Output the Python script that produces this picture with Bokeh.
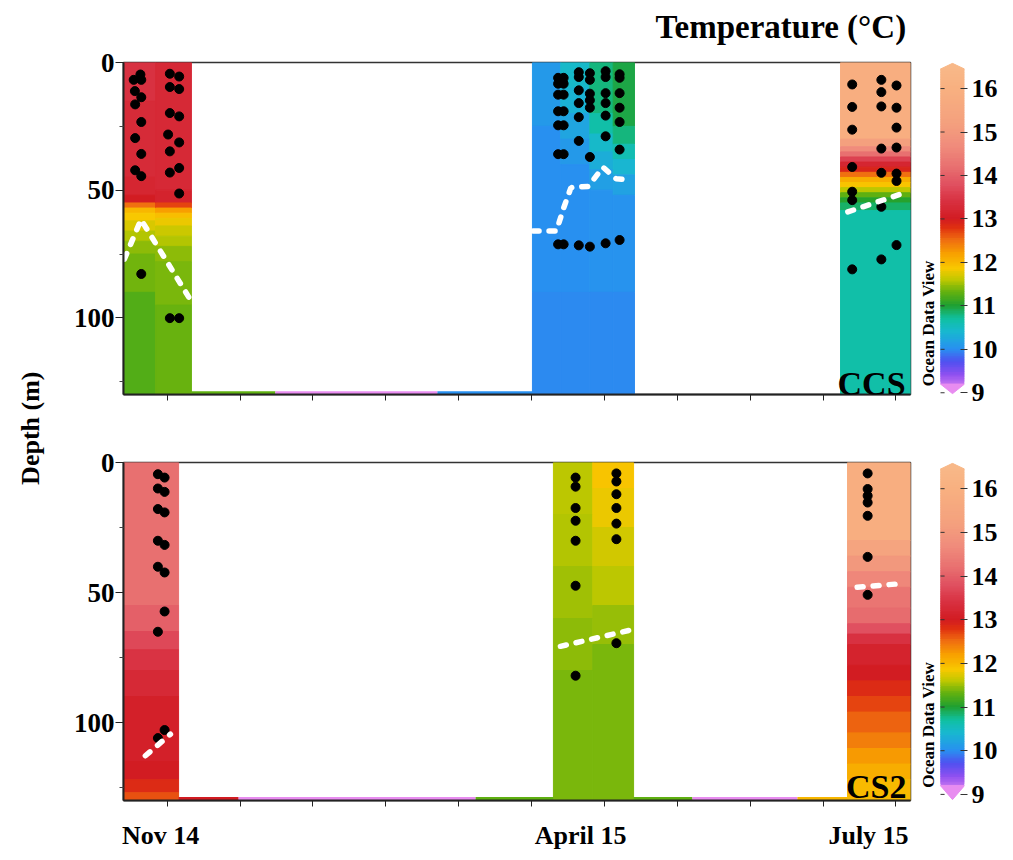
import numpy as np
from bokeh.plotting import figure
from bokeh.models import (Range1d, LinearAxis, FixedTicker, LinearColorMapper, Label,
                          ColumnDataSource)
from bokeh.layouts import row, column
from bokeh.embed import file_html
from bokeh.resources import INLINE

# ---------------- data ----------------
# colour scale (Ocean Data View style)
cb_ticks = [9, 10, 11, 12, 13, 14, 15, 16]
anchor_v = [9.0, 9.4, 9.7, 10.0, 10.4, 10.7, 11.0, 11.3, 11.6, 11.85, 12.2, 12.5, 12.8,
            13.0, 13.4, 13.8, 14.2, 14.7, 15.2, 16.0, 16.5]
anchor_c = ["#e88cf0", "#9050f0", "#5050f0", "#2890f0", "#18b8d0", "#10c0a0", "#20a030",
            "#60b010", "#c0c800", "#f8c800", "#f8a000", "#f07010", "#e03010", "#d21c22",
            "#d83040", "#e05060", "#e87070", "#f08c7c", "#f4a07e", "#f8b080", "#f8b888"]

time_ticks = [15, 40, 65, 90, 115, 140, 165, 190, 215, 240, 265]   # days
month_labels = ["Nov 14", "April 15", "July 15"]
month_pos = [12.7, 156.8, 255.6]

# ---- CCS temperature profiles: (day range, layer boundaries [m], temperature per layer)
ccs_nov1_x = [0.0, 11.0]
ccs_nov1_z = [0, 15, 45, 52, 55, 57, 59, 62, 66, 70, 75, 90, 130]
ccs_nov1_t = [13.4, 13.3, 13.2, 13.0, 12.5, 12.0, 11.85, 11.7, 11.55, 11.45, 11.35, 11.25]
ccs_nov2_x = [11.0, 23.3]
ccs_nov2_z = [0, 50, 55, 57, 59, 61, 64, 68, 72, 78, 95, 130]
ccs_nov2_t = [13.25, 13.15, 12.7, 12.2, 11.95, 11.8, 11.65, 11.55, 11.45, 11.38, 11.32]

ccs_apr1_x = [140.3, 150.0]
ccs_apr1_z = [0, 25, 90, 130]
ccs_apr1_t = [10.1, 10.02, 9.97]
ccs_apr2_x = [150.0, 160.0]
ccs_apr2_z = [0, 10, 20, 30, 40, 90, 130]
ccs_apr2_t = [10.45, 10.35, 10.22, 10.1, 10.02, 9.97]
ccs_apr3_x = [160.0, 168.0]
ccs_apr3_z = [0, 20, 28, 35, 42, 50, 90, 130]
ccs_apr3_t = [10.8, 10.65, 10.45, 10.3, 10.15, 10.05, 9.98]
ccs_apr4_x = [168.0, 175.3]
ccs_apr4_z = [0, 25, 32, 38, 44, 52, 90, 130]
ccs_apr4_t = [10.95, 10.8, 10.6, 10.4, 10.2, 10.05, 9.98]

ccs_jul_x = [246.0, 270.0]
ccs_jul_z = [0, 30, 33, 35, 37, 39, 41, 43, 45, 47, 49, 51, 53, 55, 58, 130]
ccs_jul_t = [15.9, 15.2, 14.7, 14.2, 13.6, 13.2, 12.9, 12.5, 12.1, 11.9, 11.6, 11.3, 11.05, 10.85, 10.65]

# ---- CS2 temperature profiles
cs2_nov_x = [0.0, 18.9]
cs2_nov_z = [0, 55, 65, 72, 80, 90, 115, 122, 127, 130]
cs2_nov_t = [14.2, 14.0, 13.7, 13.45, 13.25, 13.1, 13.0, 12.85, 12.65]

cs2_apr1_x = [147.5, 161.0]
cs2_apr1_z = [0, 20, 40, 60, 80, 130]
cs2_apr1_t = [11.6, 11.55, 11.5, 11.45, 11.38]
cs2_apr2_x = [161.0, 175.0]
cs2_apr2_z = [0, 10, 25, 40, 55, 70, 130]
cs2_apr2_t = [11.88, 11.8, 11.68, 11.58, 11.48, 11.4]

cs2_jul_x = [248.4, 270.0]
cs2_jul_z = [0, 30, 36, 42, 48, 56, 62, 66, 70, 78, 84, 90, 96, 104, 110, 116, 122, 130]
cs2_jul_t = [15.9, 15.4, 15.0, 14.6, 14.3, 14.15, 13.8, 13.4, 13.15, 13.0, 12.85, 12.7,
             12.55, 12.4, 12.25, 12.1, 11.98]

# thin strips along the bottom between cruises
ccs_strip_left = [23.3, 52.1, 107.7]
ccs_strip_right = [52.1, 107.7, 140.3]
ccs_strip_t = [11.3, 9.0, 10.0]
cs2_strip_left = [18.9, 39.5, 120.8, 175.0, 195.2, 231.2]
cs2_strip_right = [39.5, 120.8, 147.5, 195.2, 231.2, 248.4]
cs2_strip_t = [13.0, 9.0, 11.3, 11.3, 9.0, 12.0]

# ---- sample points (day, depth)
ccs_dot_day = [5.8, 3.5, 6.1, 3.9, 6.1, 4.0, 6.1, 4.0, 6.1, 4.0, 6.1,
               15.9, 19.1, 15.9, 19.1, 15.9, 19.1, 15.3, 19.1, 15.9, 19.1, 15.9, 19.1,
               6.1, 15.9, 19.1,
               149.1, 149.1, 149.1, 149.1, 149.1, 149.1, 149.1,
               151.0, 151.0, 151.0, 151.0, 151.0, 151.0, 151.0,
               156.2, 156.2, 156.2, 156.2, 156.2, 156.2, 156.2,
               160.0, 160.0, 160.0, 160.0, 160.0, 160.0, 160.0,
               165.4, 165.4, 165.4, 165.4, 165.4, 165.4, 165.4,
               170.2, 170.2, 170.2, 170.2, 170.2, 170.2, 170.2,
               250.0, 250.0, 250.0, 250.0, 250.0, 250.0, 250.0,
               260.0, 260.0, 260.0, 260.0, 260.0, 260.0, 260.0,
               265.2, 265.2, 265.2, 265.2, 265.2, 265.2, 265.2]
ccs_dot_depth = [4.7, 6.8, 6.8, 11.2, 13.6, 16.4, 23.3, 29.6, 35.8, 42.2, 44.5,
                 4.4, 5.5, 9.6, 10.4, 19.8, 21.1, 28.2, 31.3, 34.8, 41.3, 43.1, 51.3,
                 82.8, 100.1, 100.1,
                 6.0, 8.3, 12.6, 19.1, 24.6, 35.9, 71.2,
                 6.0, 8.3, 12.6, 19.1, 24.6, 35.9, 71.2,
                 3.8, 5.7, 10.9, 15.9, 21.4, 30.7, 71.6,
                 4.2, 6.8, 12.2, 14.8, 17.7, 37.0, 72.1,
                 3.4, 5.7, 12.0, 15.9, 20.8, 28.9, 70.8,
                 4.6, 6.0, 12.0, 17.7, 23.3, 34.1, 69.5,
                 8.6, 17.4, 26.3, 40.9, 50.6, 53.9, 81.0,
                 6.8, 11.6, 17.2, 33.7, 43.2, 56.5, 77.1,
                 9.0, 17.7, 25.5, 33.3, 43.5, 46.4, 71.5]

cs2_dot_day = [11.8, 14.1, 11.8, 14.1, 11.8, 14.1, 11.8, 14.1, 11.8, 14.1, 14.1, 11.8, 14.1, 11.8,
               155.1, 155.1, 155.1, 155.1, 155.1, 155.1, 155.1,
               169.1, 169.1, 169.1, 169.1, 169.1, 169.1, 169.1,
               255.3, 255.3, 255.3, 255.3, 255.3, 255.3, 255.3]
cs2_dot_depth = [4.5, 5.8, 10.0, 11.3, 17.9, 19.2, 30.1, 31.7, 40.1, 42.3, 57.3, 65.1, 102.9, 106.0,
                 5.8, 9.3, 17.5, 22.4, 30.1, 47.4, 82.0,
                 4.2, 7.3, 12.2, 17.5, 23.5, 29.5, 69.5,
                 4.2, 10.2, 12.8, 15.4, 20.5, 36.3, 50.9]

# ---- mixed layer depth (white dashed)
ccs_mld_nov_day = [0.3, 6.0, 23.0]
ccs_mld_nov_depth = [77.0, 61.5, 93.0]
ccs_mld_apr_day = [140.5, 148.5, 151.0, 153.5, 159.5, 164.5, 169.0, 173.0]
ccs_mld_apr_depth = [66.0, 66.0, 57.0, 49.0, 48.5, 41.0, 45.5, 46.0]
ccs_mld_jul_day = [248.5, 268.0]
ccs_mld_jul_depth = [58.5, 51.0]
cs2_mld_nov_day = [7.5, 16.1]
cs2_mld_nov_depth = [112.8, 104.5]
cs2_mld_apr_day = [149.9, 174.5]
cs2_mld_apr_depth = [70.7, 64.3]
cs2_mld_jul_day = [251.7, 267.7]
cs2_mld_jul_depth = [48.0, 46.5]

# ---------------- styling helpers ----------------
FONT = "Liberation Serif"


def build_palette(vals, cols, n=256):
    rgb = np.array([[int(c[i:i + 2], 16) for i in (1, 3, 5)] for c in cols], float)
    xs = np.linspace(vals[0], vals[-1], n)
    out = []
    for x in xs:
        r = np.interp(x, vals, rgb[:, 0]); g = np.interp(x, vals, rgb[:, 1]); b = np.interp(x, vals, rgb[:, 2])
        out.append("#%02x%02x%02x" % (int(round(r)), int(round(g)), int(round(b))))
    return out


palette = build_palette(anchor_v, anchor_c)
mapper = LinearColorMapper(palette=palette, low=9.0, high=16.5)
cmap = {"field": "t", "transform": mapper}


def add_profile(p, xr, z, t):
    n = len(t)
    src = ColumnDataSource(dict(left=[xr[0]] * n, right=[xr[1]] * n, top=z[:-1], bottom=z[1:], t=t))
    p.quad(left="left", right="right", top="top", bottom="bottom", source=src,
           fill_color=cmap, line_color=cmap, line_width=1)


def add_strip(p, left, right, t):
    n = len(t)
    src = ColumnDataSource(dict(left=left, right=right, top=[128.7] * n, bottom=[130] * n, t=t))
    p.quad(left="left", right="right", top="top", bottom="bottom", source=src,
           fill_color=cmap, line_color=None)


def add_mld(p, xs, ys):
    p.line(xs, ys, line_color="white", line_width=5.5, line_dash="6 10", line_cap="round")


def main_fig(mb_top, frame_h, mb_bot):
    p = figure(width=867, height=mb_top + frame_h + mb_bot,
               x_range=Range1d(0, 270), y_range=Range1d(130, 0),
               x_axis_type=None, y_axis_type=None,
               min_border_left=75, min_border_right=5,
               min_border_top=mb_top, min_border_bottom=mb_bot,
               output_backend="svg", toolbar_location=None)
    p.outline_line_color = "#333333"
    p.outline_line_width = 1.5
    p.background_fill_color = "white"
    p.border_fill_color = "white"
    ya = LinearAxis(ticker=FixedTicker(ticks=[0, 50, 100], minor_ticks=[25, 75, 125]),
                    major_tick_out=8, major_tick_in=0, minor_tick_out=4, minor_tick_in=0,
                    axis_line_width=2, axis_line_color="#222222",
                    major_tick_line_color="#222222", minor_tick_line_color="#444444",
                    major_label_text_font=FONT, major_label_text_font_style="bold",
                    major_label_text_font_size="27px", major_label_text_color="black",
                    major_label_standoff=1)
    p.add_layout(ya, "left")
    return p


def cbar_fig(mb_top, frame_h, mb_bot, ylo, yhi):
    # frame spans from the "Ocean Data View" text (x<0) to the right edge of the bar (x=1)
    c = figure(width=94, height=mb_top + frame_h + mb_bot,
               x_range=Range1d(-0.9167, 1), y_range=Range1d(ylo, yhi),
               x_axis_type=None, y_axis_type=None,
               min_border_left=3, min_border_right=45, min_border_top=mb_top,
               min_border_bottom=mb_bot,
               output_backend="svg", toolbar_location=None)
    c.outline_line_color = None
    c.border_fill_color = "white"
    lev = np.arange(9.2, 16.45, 0.04)
    src = ColumnDataSource(dict(bottom=lev, top=np.minimum(lev + 0.1, 16.45), t=lev + 0.02))
    c.quad(left=0, right=1, bottom="bottom", top="top", source=src,
           fill_color=cmap, line_color=None)
    c.patch([0, 0.5, 1], [9.2, ylo + 0.02, 9.2], fill_color=palette[0], line_color=palette[0])
    c.patch([0, 0.5, 1], [16.45, yhi - 0.02, 16.45], fill_color=palette[-1], line_color=palette[-1])
    c.segment(x0=0, x1=0.17, y0=cb_ticks, y1=cb_ticks, line_color="#333333", line_width=1)
    ra = LinearAxis(ticker=FixedTicker(ticks=cb_ticks), major_tick_in=4, major_tick_out=3,
                    axis_line_color=None, major_tick_line_color="#333333",
                    major_label_text_font=FONT, major_label_text_font_style="bold",
                    major_label_text_font_size="26px", major_label_text_color="black",
                    major_label_standoff=4)
    c.add_layout(ra, "right")
    c.add_layout(Label(x=-0.5, y=9.15, text="Ocean Data View", angle=np.pi / 2,
                       text_align="left", text_baseline="middle", text_font=FONT,
                       text_font_style="bold", text_font_size="17px", text_color="black"))
    return c


# ---------------- title strip ----------------
tfig = figure(width=867, height=46, x_range=Range1d(0, 270), y_range=Range1d(0, 46),
              x_axis_type=None, y_axis_type=None,
              min_border_left=75, min_border_right=5, min_border_top=0, min_border_bottom=0,
              output_backend="svg", toolbar_location=None)
tfig.outline_line_color = None
tfig.add_layout(Label(x=268.5, y=20, text="Temperature (°C)", text_align="right",
                      text_baseline="middle", text_font=FONT, text_font_style="bold",
                      text_font_size="33px", text_color="black"))

# ---------------- top panel: CCS ----------------
top = main_fig(16, 332, 36)
top.add_layout(LinearAxis(ticker=FixedTicker(ticks=[], minor_ticks=time_ticks),
                          minor_tick_out=6, minor_tick_in=0, axis_line_width=2,
                          axis_line_color="#222222", minor_tick_line_color="#222222"), "below")
for xr, z, t in [(ccs_nov1_x, ccs_nov1_z, ccs_nov1_t), (ccs_nov2_x, ccs_nov2_z, ccs_nov2_t),
                 (ccs_apr1_x, ccs_apr1_z, ccs_apr1_t), (ccs_apr2_x, ccs_apr2_z, ccs_apr2_t),
                 (ccs_apr3_x, ccs_apr3_z, ccs_apr3_t), (ccs_apr4_x, ccs_apr4_z, ccs_apr4_t),
                 (ccs_jul_x, ccs_jul_z, ccs_jul_t)]:
    add_profile(top, xr, z, t)
add_strip(top, ccs_strip_left, ccs_strip_right, ccs_strip_t)
top.scatter(ccs_dot_day, ccs_dot_depth, size=9, color="black")
add_mld(top, ccs_mld_nov_day, ccs_mld_nov_depth)
add_mld(top, ccs_mld_apr_day, ccs_mld_apr_depth)
add_mld(top, ccs_mld_jul_day, ccs_mld_jul_depth)
top.add_layout(Label(x=268.3, y=125.8, text="CCS", text_align="right", text_baseline="alphabetic",
                     text_font=FONT, text_font_style="bold", text_font_size="34px", text_color="black"))

# ---------------- bottom panel: CS2 ----------------
bot = main_fig(32, 338, 52)
bot.add_layout(LinearAxis(ticker=FixedTicker(ticks=month_pos, minor_ticks=time_ticks),
                          major_label_overrides={p: l for p, l in zip(month_pos, month_labels)},
                          major_tick_line_color=None, major_tick_out=0, major_tick_in=0,
                          minor_tick_out=6, minor_tick_in=0, axis_line_width=2,
                          axis_line_color="#222222", minor_tick_line_color="#222222",
                          major_label_text_font=FONT, major_label_text_font_style="bold",
                          major_label_text_font_size="26px", major_label_text_color="black",
                          major_label_standoff=14), "below")
for xr, z, t in [(cs2_nov_x, cs2_nov_z, cs2_nov_t),
                 (cs2_apr1_x, cs2_apr1_z, cs2_apr1_t), (cs2_apr2_x, cs2_apr2_z, cs2_apr2_t),
                 (cs2_jul_x, cs2_jul_z, cs2_jul_t)]:
    add_profile(bot, xr, z, t)
add_strip(bot, cs2_strip_left, cs2_strip_right, cs2_strip_t)
bot.scatter(cs2_dot_day, cs2_dot_depth, size=9, color="black")
add_mld(bot, cs2_mld_nov_day, cs2_mld_nov_depth)
add_mld(bot, cs2_mld_apr_day, cs2_mld_apr_depth)
add_mld(bot, cs2_mld_jul_day, cs2_mld_jul_depth)
bot.add_layout(Label(x=268.6, y=124.7, text="CS2", text_align="right", text_baseline="alphabetic",
                     text_font=FONT, text_font_style="bold", text_font_size="34px", text_color="black"))

# ---------------- colour bars (frames share the panels' frames) ----------------
cb_top = cbar_fig(16, 332, 36, 8.96, 16.60)
cb_bot = cbar_fig(32, 338, 52, 8.86, 16.60)

# ---------------- depth label ----------------
lab = figure(width=48, height=852, x_range=Range1d(0, 1), y_range=Range1d(0, 1),
             x_axis_type=None, y_axis_type=None, min_border=0,
             output_backend="svg", toolbar_location=None)
lab.outline_line_color = None
lab.add_layout(Label(x=0.62, y=0.498, text="Depth (m)", angle=np.pi / 2, text_align="center",
                     text_baseline="middle", text_font=FONT, text_font_style="bold",
                     text_font_size="26px", text_color="black"))

layout = row(lab, column(tfig, row(top, cb_top), row(bot, cb_bot)))

open("out.html", "w").write(file_html(layout, INLINE))
